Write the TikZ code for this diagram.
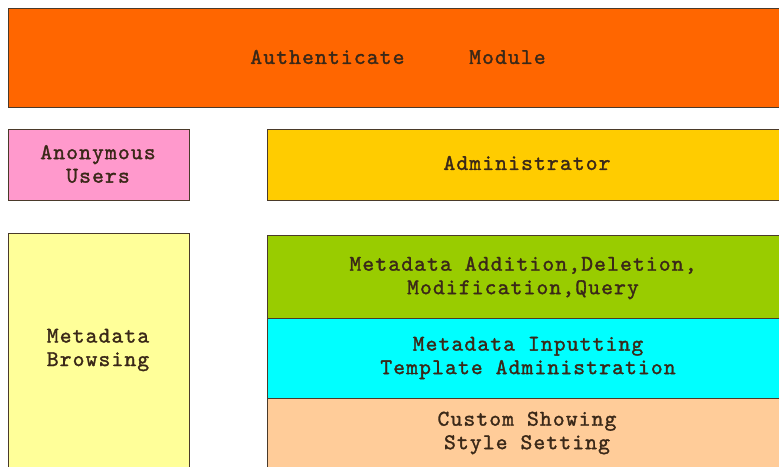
\documentclass[tikz,border=0pt]{standalone}
\usepackage{fontspec}
\definecolor{authorange}{HTML}{FF6600}
\definecolor{anonpink}{HTML}{FF99CC}
\definecolor{admingold}{HTML}{FFCC00}
\definecolor{browseyellow}{HTML}{FFFF99}
\definecolor{editgreen}{HTML}{99CC00}
\definecolor{tplcyan}{HTML}{00FFFF}
\definecolor{stylepeach}{HTML}{FFCC99}
\definecolor{boxline}{HTML}{4A3A2A}
\definecolor{ink}{HTML}{3A2818}
\newfontfamily\monolabel{lmmono10-regular}[Extension=.otf, LetterSpace=5, FakeBold=1.4]
\newcommand\boxfont{\monolabel\fontsize{22.5}{23.5}\selectfont}
\begin{document}
\begin{tikzpicture}[x=1pt,y=-1pt,
  box/.style={draw=boxline, line width=1.4pt, inner sep=0pt, anchor=north west},
  txt/.style={font=\boxfont, text=ink, align=center, inner sep=0pt}]
\useasboundingbox (0,0) rectangle (779,466);
\clip (0,0) rectangle (779,466);
\fill[white] (0,0) rectangle (779,466);

% module blocks
\node[box, fill=authorange,  minimum width=782pt, minimum height=99pt]  (auth)   at (8,8)   {};
\node[box, fill=anonpink,    minimum width=181pt, minimum height=71pt]  (anon)   at (8,129) {};
\node[box, fill=admingold,   minimum width=520pt, minimum height=71pt]  (admin)  at (267,129) {};
\node[box, fill=browseyellow,minimum width=181pt, minimum height=245pt] (browse) at (8,233) {};
\node[box, fill=editgreen,   minimum width=520pt, minimum height=83pt]  (edit)   at (267,235) {};
\node[box, fill=tplcyan,     minimum width=520pt, minimum height=80pt]  (tpl)    at (267,318) {};
\node[box, fill=stylepeach,  minimum width=520pt, minimum height=80pt]  (style)  at (267,398) {};

% labels
\node[txt] (authT)   at (398,57)  {Authenticate\ \ \ \ \ Module};
\node[txt] (anonT)   at (98,164)  {Anonymous\\Users};
\node[txt] (adminT)  at (527,163) {Administrator};
\node[txt] (browseT) at (98,350)  {Metadata\\Browsing};
\node[txt] (editT)   at (523,278) {Metadata Addition,Deletion,\\Modification,Query};
\node[txt] (tplT)    at (528,358) {Metadata Inputting\\Template Administration};
\node[txt] (styleT)  at (527,433) {Custom Showing\\Style Setting};
\end{tikzpicture}
\end{document}
